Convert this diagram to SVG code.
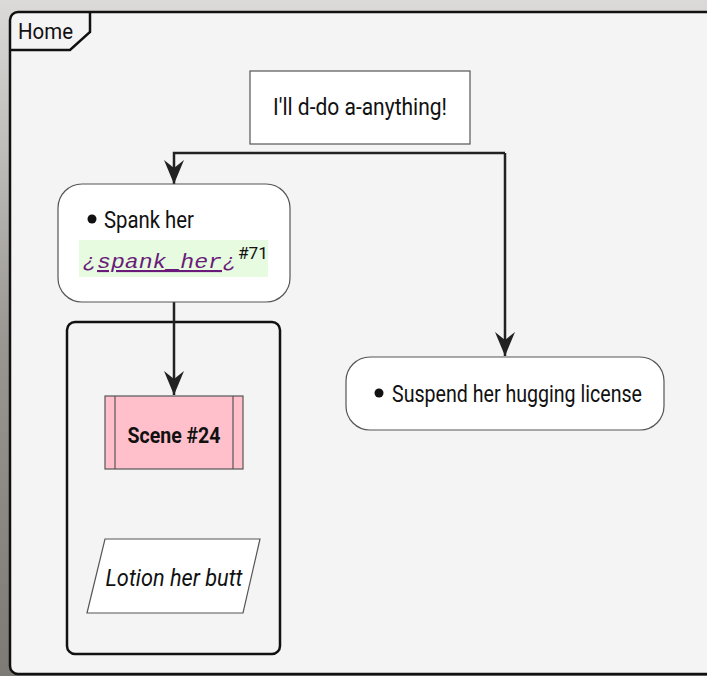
<svg xmlns="http://www.w3.org/2000/svg" width="707" height="676" viewBox="0 0 707 676">
<defs>
<linearGradient id="bg" x1="0" y1="0" x2="0" y2="1">
<stop offset="0" stop-color="#dcdad8"/>
<stop offset="0.5" stop-color="#9a9793"/>
<stop offset="1" stop-color="#7d7a76"/>
</linearGradient>
<marker id="ah" viewBox="0 0 24 20" refX="24" refY="10" markerWidth="24" markerHeight="20" markerUnits="userSpaceOnUse" orient="auto">
<path d="M0,0 L24,10 L0,20 L8,10 Z" fill="#222"/>
</marker>
<style>
.t{font-family:Roboto,"Liberation Sans",sans-serif;fill:#111}
.conn{stroke:#222;stroke-width:2.5;fill:none}
.box{fill:#fff;stroke:#555;stroke-width:1.2}
</style>
</defs>
<rect x="0" y="0" width="707" height="676" fill="url(#bg)"/>
<rect x="10" y="12" width="706" height="662" rx="8" fill="#f4f4f4" stroke="#111" stroke-width="2.5"/>
<g id="frame-tab">
<path d="M10,50 L70,50 L90,32 L90,12" fill="none" stroke="#111" stroke-width="2.5"/>
<text class="t" x="18" y="39" font-size="22" textLength="55" lengthAdjust="spacingAndGlyphs">Home</text>
</g>
<g id="group">
<rect x="67" y="322" width="213" height="332" rx="8" fill="none" stroke="#111" stroke-width="2.5"/>
</g>
<g id="connectors">
<path class="conn" d="M505,153 L174,153 L174,184" marker-end="url(#ah)"/>
<path class="conn" d="M505,153 L505,356" marker-end="url(#ah)"/>
<path class="conn" d="M174,302 L174,395" marker-end="url(#ah)"/>
</g>
<g id="n-start">
<rect class="box" x="250" y="71" width="220" height="73"/>
<text class="t" x="360" y="115" font-size="23" text-anchor="middle" textLength="174" lengthAdjust="spacingAndGlyphs">I'll d-do a-anything!</text>
</g>
<g id="n-spank">
<rect class="box" x="58" y="184" width="232" height="118" rx="24"/>
<circle cx="92" cy="219" r="4.5" fill="#111"/>
<text class="t" x="104" y="228" font-size="23" textLength="90" lengthAdjust="spacingAndGlyphs">Spank her</text>
<rect x="79" y="240" width="189" height="37" fill="#e6fbe0"/>
<text x="83" y="268" font-family="'Liberation Mono',monospace" font-size="21" font-style="italic" fill="#6a1b7a">¿</text>
<text x="97" y="268" font-family="'Liberation Mono',monospace" font-size="21" font-style="italic" fill="#6a1b7a" text-decoration="underline" textLength="125" lengthAdjust="spacingAndGlyphs">spank_her</text>
<text x="223" y="268" font-family="'Liberation Mono',monospace" font-size="21" font-style="italic" fill="#6a1b7a">¿</text>
<text class="t" x="238" y="259" font-size="17" textLength="30" lengthAdjust="spacingAndGlyphs">#71</text>
</g>
<g id="n-scene">
<rect x="105" y="396" width="138" height="73" fill="#ffc0cb" stroke="#555" stroke-width="1.2"/>
<line x1="115" y1="396" x2="115" y2="469" stroke="#555" stroke-width="1.2"/>
<line x1="233" y1="396" x2="233" y2="469" stroke="#555" stroke-width="1.2"/>
<text class="t" x="174" y="443" font-size="22" font-weight="bold" text-anchor="middle" textLength="93" lengthAdjust="spacingAndGlyphs">Scene #24</text>
</g>
<g id="n-lotion">
<polygon class="box" points="105,539 260,539 243,613 87,613"/>
<text class="t" x="174" y="586" font-size="23" font-style="italic" text-anchor="middle" textLength="137" lengthAdjust="spacingAndGlyphs">Lotion her butt</text>
</g>
<g id="n-suspend">
<rect class="box" x="346" y="357" width="318" height="73" rx="24"/>
<circle cx="379" cy="393" r="4.5" fill="#111"/>
<text class="t" x="392" y="402" font-size="23" textLength="250" lengthAdjust="spacingAndGlyphs">Suspend her hugging license</text>
</g>
</svg>
